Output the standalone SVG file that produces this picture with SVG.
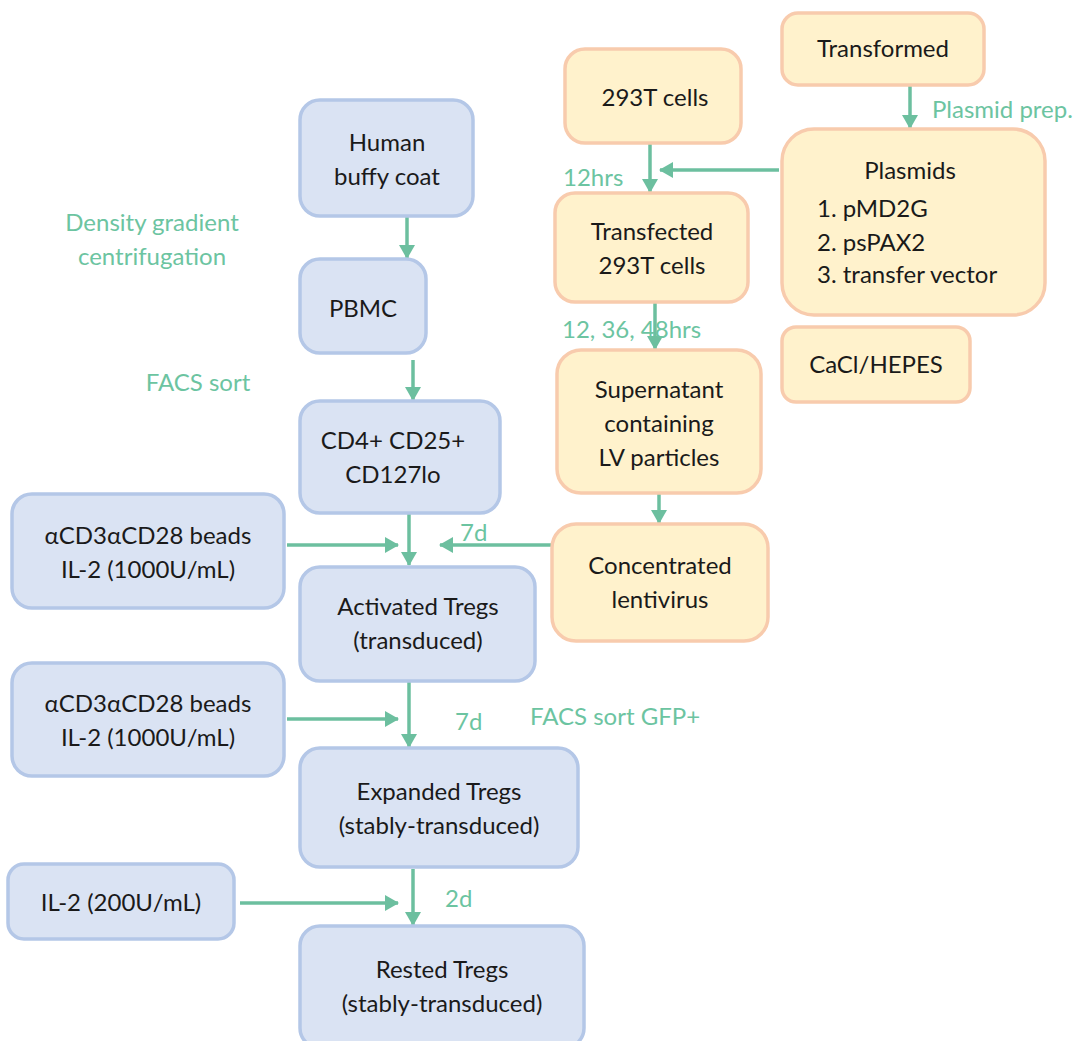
<svg xmlns="http://www.w3.org/2000/svg" width="1084" height="1041" viewBox="0 0 1084 1041">
<style>
.b{fill:#dae3f3;stroke:#b4c7e7;stroke-width:3.5}
.o{fill:#fff2cc;stroke:#f8cbad;stroke-width:3.5}
.t{font-family:Lato,"Open Sans",sans-serif;font-size:24px;fill:#1a1a1a;text-anchor:middle}
.s{font-family:Lato,"Open Sans",sans-serif;font-size:24px;fill:#1a1a1a;text-anchor:start}
.l{font-family:Lato,"Open Sans",sans-serif;font-size:24px;fill:#6cc4a1}
.m{text-anchor:middle}
.c{stroke:#6cbf9f;stroke-width:3.5;fill:none;marker-end:url(#ah)}
</style>
<defs>
<marker id="ah" markerUnits="userSpaceOnUse" markerWidth="16" markerHeight="16" refX="13" refY="8" orient="auto">
<path d="M0,0 L14,8 L0,16 Z" fill="#6cbf9f"/>
</marker>
</defs>
<g id="connectors">
<line class="c" x1="407" y1="216" x2="407" y2="258"/>
<line class="c" x1="413" y1="360" x2="413" y2="400"/>
<line class="c" x1="409" y1="513" x2="409" y2="565"/>
<line class="c" x1="287" y1="545" x2="398" y2="545"/>
<line class="c" x1="551" y1="545" x2="440" y2="545"/>
<line class="c" x1="409" y1="681" x2="409" y2="747"/>
<line class="c" x1="287" y1="719" x2="398" y2="719"/>
<line class="c" x1="413" y1="869" x2="413" y2="925"/>
<line class="c" x1="240" y1="903" x2="398" y2="903"/>
<line class="c" x1="910" y1="85" x2="910" y2="128"/>
<line class="c" x1="650" y1="143" x2="650" y2="192"/>
<line class="c" x1="779" y1="170" x2="660" y2="170"/>
<line class="c" x1="655" y1="302" x2="655" y2="349"/>
<line class="c" x1="659" y1="494" x2="659" y2="523"/>
</g>
<g id="labels">
<text class="l m" x="152" y="231">Density gradient</text>
<text class="l m" x="152" y="265">centrifugation</text>
<text class="l m" x="198" y="391">FACS sort</text>
<text class="l" x="460" y="541">7d</text>
<text class="l" x="455" y="730">7d</text>
<text class="l" x="530" y="725">FACS sort GFP+</text>
<text class="l" x="445" y="907">2d</text>
<text class="l" x="932" y="118">Plasmid prep.</text>
<text class="l" x="563" y="186">12hrs</text>
<text class="l" x="562" y="338">12, 36, 48hrs</text>
</g>
<g id="buffy"><rect class="b" x="300" y="100" width="173" height="116" rx="20"/><text class="t" x="387" y="151">Human</text><text class="t" x="387" y="185">buffy coat</text></g>
<g id="pbmc"><rect class="b" x="300" y="259" width="126" height="94" rx="20"/><text class="t" x="363" y="317">PBMC</text></g>
<g id="cd4"><rect class="b" x="300" y="401" width="200" height="112" rx="20"/><text class="t" x="393" y="449">CD4+ CD25+</text><text class="t" x="393" y="483">CD127lo</text></g>
<g id="beads1"><rect class="b" x="12" y="494" width="272" height="114" rx="20"/><text class="t" x="148" y="544">αCD3αCD28 beads</text><text class="t" x="148" y="578">IL-2 (1000U/mL)</text></g>
<g id="activated"><rect class="b" x="300" y="567" width="235" height="114" rx="20"/><text class="t" x="418" y="615">Activated Tregs</text><text class="t" x="418" y="649">(transduced)</text></g>
<g id="beads2"><rect class="b" x="12" y="663" width="272" height="113" rx="20"/><text class="t" x="148" y="712">αCD3αCD28 beads</text><text class="t" x="148" y="746">IL-2 (1000U/mL)</text></g>
<g id="expanded"><rect class="b" x="300" y="748" width="278" height="119" rx="20"/><text class="t" x="439" y="800">Expanded Tregs</text><text class="t" x="439" y="834">(stably-transduced)</text></g>
<g id="il2"><rect class="b" x="8" y="864" width="226" height="75" rx="16"/><text class="t" x="121" y="911">IL-2 (200U/mL)</text></g>
<g id="rested"><rect class="b" x="300" y="926" width="284" height="122" rx="20"/><text class="t" x="442" y="978">Rested Tregs</text><text class="t" x="442" y="1012">(stably-transduced)</text></g>
<g id="transformed"><rect class="o" x="782" y="13" width="202" height="72" rx="16"/><text class="t" x="883" y="57">Transformed</text></g>
<g id="cells293"><rect class="o" x="565" y="49" width="176" height="94" rx="20"/><text class="t" x="655" y="106">293T cells</text></g>
<g id="plasmids"><rect class="o" x="782" y="129" width="263" height="186" rx="32"/><text class="t" x="910" y="179">Plasmids</text><text class="s" x="817" y="217">1. pMD2G</text><text class="s" x="817" y="251">2. psPAX2</text><text class="s" x="817" y="283">3. transfer vector</text></g>
<g id="transfected"><rect class="o" x="555" y="193" width="193" height="109" rx="20"/><text class="t" x="652" y="240">Transfected</text><text class="t" x="652" y="274">293T cells</text></g>
<g id="cacl"><rect class="o" x="782" y="327" width="188" height="75" rx="14"/><text class="t" x="876" y="373">CaCl/HEPES</text></g>
<g id="supernatant"><rect class="o" x="557" y="350" width="204" height="143" rx="24"/><text class="t" x="659" y="398">Supernatant</text><text class="t" x="659" y="432">containing</text><text class="t" x="659" y="466">LV particles</text></g>
<g id="concentrated"><rect class="o" x="552" y="524" width="216" height="117" rx="24"/><text class="t" x="660" y="574">Concentrated</text><text class="t" x="660" y="608">lentivirus</text></g>
</svg>
